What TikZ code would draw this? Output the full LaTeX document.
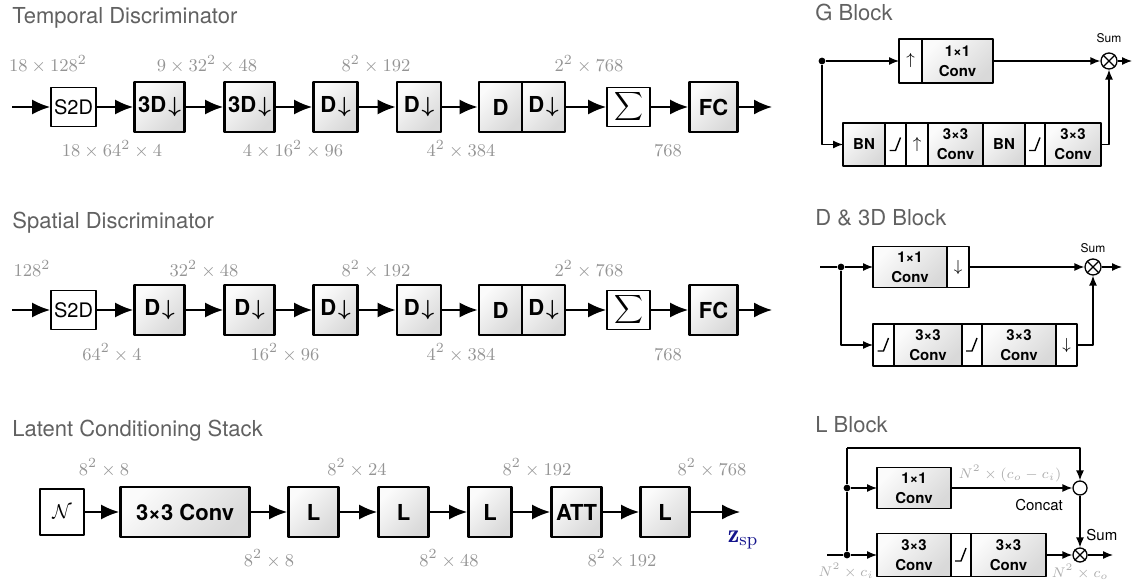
\documentclass[tikz,border=0pt]{standalone}
\usepackage{fontspec}
\usepackage{amsmath}
\usetikzlibrary{arrows.meta,positioning}
\newfontfamily\hv{TeX Gyre Heros}
\definecolor{lblgray}{gray}{0.58}
\definecolor{faintgray}{gray}{0.68}
\definecolor{ttlgray}{gray}{0.38}
\definecolor{zblue}{RGB}{20,20,140}
\def\dn{\kern1pt{\boldmath$\downarrow$}}
\tikzset{
  sz/.style 2 args={minimum width=#1*0.5pt, minimum height=#2*0.5pt},
  blk/.style={draw, line width=1.4pt, inner sep=0pt, top color=gray!3, bottom color=gray!30, shading angle=45, font=\hv\bfseries\fontsize{11}{11}\selectfont},
  wbox/.style={draw, line width=0.9pt, fill=white, inner sep=0pt, font=\hv\fontsize{10}{10}\selectfont},
  cell/.style={draw, line width=0.8pt, inner sep=0pt, outer sep=0pt, top color=gray!3, bottom color=gray!30, shading angle=45, align=center, font=\hv\bfseries\fontsize{7.5}{10}\selectfont},
  wcell/.style={draw, line width=0.8pt, inner sep=0pt, outer sep=0pt, fill=white, font=\fontsize{8.5}{8}\selectfont},
  dim/.style={text=lblgray, font=\fontsize{9.5}{10}\selectfont, anchor=base, inner sep=0pt},
  ttl/.style={text=ttlgray, font=\hv\fontsize{11}{12}\selectfont, anchor=base west, inner sep=0pt},
  note/.style={font=\hv\fontsize{#1}{#1}\selectfont, anchor=base, inner sep=0pt},
  flow/.style={line width=0.9pt, -{Latex[length=9pt,width=7.5pt]}},
  link/.style={line width=0.65pt, -{Latex[length=5pt,width=4pt]}},
  wire/.style={line width=0.65pt},
  dot/.style={circle, fill, inner sep=0pt, minimum size=3.4pt},
  sumnode/.style={circle, draw, line width=0.65pt, inner sep=0pt, minimum size=#1},
  sumnode/.default=8pt,
}
\newcommand{\relu}[1]{\draw[line width=0.7pt] ([shift={(-6,6)}]#1.center) -- ++(6,0) -- ++(5,-13);}
\newcommand{\cross}[1]{\draw[line width=0.65pt] (#1.north west) -- (#1.south east) (#1.north east) -- (#1.south west);}
\begin{document}
\begin{tikzpicture}[x=0.5pt, y=-0.5pt, line join=round]
\useasboundingbox (0,0) rectangle (1133,582);
% --- temporal discriminator
\node[ttl] (ttitle) at (12,24) {Temporal Discriminator};
\coordinate (tin) at (12,107);
\node[wbox, sz={45}{39}] (ts2d) at (73.5,107) {S2D};
\node[blk, sz={50}{50}] (t3da) at (159.5,107) {3D\dn};
\node[blk, sz={50}{50}] (t3db) at (249.5,107) {3D\dn};
\node[blk, sz={44}{50}] (tda) at (335.5,107) {D\dn};
\node[blk, sz={44}{50}] (tdb) at (419,107) {D\dn};
\node[blk, sz={43}{50}] (tdc) at (500.5,107) {D};
\node[blk, sz={43}{50}, right=-1.4pt of tdc] (tdd) {D\dn};
\node[wbox, sz={43}{39}] (tsum) at (628.5,107) {$\displaystyle\sum$};
\node[blk, sz={48}{50}] (tfc) at (713.5,107) {FC};
\coordinate (tout) at (772,107);
\draw[flow] (tin) -- (ts2d);
\draw[flow] (ts2d) -- (t3da);
\draw[flow] (t3da) -- (t3db);
\draw[flow] (t3db) -- (tda);
\draw[flow] (tda) -- (tdb);
\draw[flow] (tdb) -- (tdc);
\draw[flow] (tdd) -- (tsum);
\draw[flow] (tsum) -- (tfc);
\draw[flow] (tfc) -- (tout);
\node[dim] (tla) at (48,72) {$18\times128^2$};
\node[dim] (tlb) at (207,72) {$9\times32^2\times48$};
\node[dim] (tlc) at (376,72) {$8^2\times192$};
\node[dim] (tld) at (589,72) {$2^2\times768$};
\node[dim] (tle) at (112,157) {$18\times64^2\times4$};
\node[dim] (tlf) at (293,157) {$4\times16^2\times96$};
\node[dim] (tlg) at (461,157) {$4^2\times384$};
\node[dim] (tlh) at (668,157) {$768$};
% --- spatial discriminator
\node[ttl] (stitle) at (12,229) {Spatial Discriminator};
\coordinate (sin) at (12,310);
\node[wbox, sz={45}{39}] (ss2d) at (73.5,310) {S2D};
\node[blk, sz={50}{50}] (sda) at (159.5,310) {D\dn};
\node[blk, sz={50}{50}] (sdb) at (249.5,310) {D\dn};
\node[blk, sz={44}{50}] (sdc) at (335.5,310) {D\dn};
\node[blk, sz={44}{50}] (sdd) at (419,310) {D\dn};
\node[blk, sz={43}{50}] (sde) at (500.5,310) {D};
\node[blk, sz={43}{50}, right=-1.4pt of sde] (sdf) {D\dn};
\node[wbox, sz={43}{39}] (ssum) at (628.5,310) {$\displaystyle\sum$};
\node[blk, sz={48}{50}] (sfc) at (713.5,310) {FC};
\coordinate (sout) at (772,310);
\draw[flow] (sin) -- (ss2d);
\draw[flow] (ss2d) -- (sda);
\draw[flow] (sda) -- (sdb);
\draw[flow] (sdb) -- (sdc);
\draw[flow] (sdc) -- (sdd);
\draw[flow] (sdd) -- (sde);
\draw[flow] (sdf) -- (ssum);
\draw[flow] (ssum) -- (sfc);
\draw[flow] (sfc) -- (sout);
\node[dim] (sla) at (32,277) {$128^2$};
\node[dim] (slb) at (204,277) {$32^2\times48$};
\node[dim] (slc) at (376,277) {$8^2\times192$};
\node[dim] (sld) at (589,277) {$2^2\times768$};
\node[dim] (sle) at (112,360) {$64^2\times4$};
\node[dim] (slf) at (285,360) {$16^2\times96$};
\node[dim] (slg) at (461,360) {$4^2\times384$};
\node[dim] (slh) at (668,360) {$768$};
% --- latent conditioning stack
\node[ttl] (ctitle) at (12,436) {Latent Conditioning Stack};
\node[wbox, sz={44}{46}] (cnoise) at (62,512) {$\mathcal{N}$};
\node[blk, sz={129}{50}] (cconv) at (185,512) {3×3 Conv};
\node[blk, sz={50}{50}] (cla) at (313.5,512) {L};
\node[blk, sz={50}{50}] (clb) at (403.5,512) {L};
\node[blk, sz={43}{50}] (clc) at (490,512) {L};
\node[blk, sz={50}{50}] (catt) at (576.5,512) {ATT};
\node[blk, sz={49}{50}] (cld) at (665,512) {L};
\coordinate (cout) at (740,512);
\draw[flow] (cnoise) -- (cconv);
\draw[flow] (cconv) -- (cla);
\draw[flow] (cla) -- (clb);
\draw[flow] (clb) -- (clc);
\draw[flow] (clc) -- (catt);
\draw[flow] (catt) -- (cld);
\draw[flow] (cld) -- (cout);
\node[text=zblue, font=\fontsize{13}{14}\selectfont] (czsp) at (743,540) {$\mathbf{z}_{\mathrm{sp}}$};
\node[dim] (cla1) at (104,475) {$8^2\times8$};
\node[dim] (clb1) at (357,475) {$8^2\times24$};
\node[dim] (clc1) at (537,475) {$8^2\times192$};
\node[dim] (cld1) at (712,475) {$8^2\times768$};
\node[dim] (cle1) at (269,566) {$8^2\times8$};
\node[dim] (clf1) at (449,566) {$8^2\times48$};
\node[dim] (clg1) at (622,566) {$8^2\times192$};
% --- G block
\node[ttl] (gtitle) at (815,21) {G Block};
\node[dot] (gsplit) at (822,61) {};
\node[wcell, sz={23}{44}] (gup) at (910.5,61) {$\uparrow$};
\node[cell, sz={71}{44}, right=0pt of gup] (gconv) {1×1\\Conv};
\node[sumnode] (gsum) at (1109,61) {};
\cross{gsum}
\node[note=6] (gsumlbl) at (1109,43) {Sum};
\coordinate (gout) at (1132,61);
\node[cell, sz={42}{43}] (gbna) at (864,144.5) {BN};
\node[wcell, sz={21}{43}, right=0pt of gbna] (grelua) {};
\node[wcell, sz={22}{43}, right=0pt of grelua] (gupb) {$\uparrow$};
\node[cell, sz={55}{43}, right=0pt of gupb] (gconva) {3×3\\Conv};
\node[cell, sz={42}{43}, right=0pt of gconva] (gbnb) {BN};
\node[wcell, sz={20}{43}, right=0pt of gbnb] (grelub) {};
\node[cell, sz={56}{43}, right=0pt of grelub] (gconvb) {3×3\\Conv};
\relu{grelua} \relu{grelub}
\draw[link] (gsplit) -- (gup);
\draw[link] (gconv) -- (gsum);
\draw[link] (gsum) -- (gout);
\draw[link] (gsplit) |- (gbna);
\draw[link] (gconvb) -| (gsum);
% --- D & 3D block
\node[ttl] (dtitle) at (815,226) {D \& 3D Block};
\coordinate (din) at (820,267);
\node[dot] (dsplit) at (841,267) {};
\node[cell, sz={74}{41}] (dconv) at (910,267) {1×1\\Conv};
\node[wcell, sz={22}{41}, right=0pt of dconv] (ddn) {$\downarrow$};
\node[sumnode] (dsum) at (1093,267) {};
\cross{dsum}
\node[note=6] (dsumlbl) at (1093,253) {Sum};
\coordinate (dout) at (1122,267);
\node[wcell, sz={21}{42}] (drelua) at (883.5,345) {};
\node[cell, sz={68}{42}, right=0pt of drelua] (dconva) {3×3\\Conv};
\node[wcell, sz={20}{42}, right=0pt of dconva] (drelub) {};
\node[cell, sz={74}{42}, right=0pt of drelub] (dconvb) {3×3\\Conv};
\node[wcell, sz={21}{42}, right=0pt of dconvb] (ddnb) {$\downarrow$};
\relu{drelua} \relu{drelub}
\draw[wire] (din) -- (dsplit);
\draw[link] (dsplit) -- (dconv);
\draw[link] (ddn) -- (dsum);
\draw[link] (dsum) -- (dout);
\draw[link] (dsplit) |- (drelua);
\draw[link] (ddnb) -| (dsum);
% --- L block
\node[ttl] (ltitle) at (815,432) {L Block};
\coordinate (lin) at (827,555);
\coordinate (ltop) at (847,448);
\node[dot] (lsplita) at (847,555) {};
\node[dot] (lsplitb) at (847,488) {};
\node[cell, sz={74}{41}] (lconv) at (914,488) {1×1\\Conv};
\node[sumnode=7pt] (lcat) at (1080,488) {};
\node[sumnode=7pt] (lsum) at (1080,555) {};
\cross{lsum}
\node[cell, sz={74}{43}] (lconva) at (914,555) {3×3\\Conv};
\node[wcell, sz={20}{43}, right=0pt of lconva] (lrelu) {};
\node[cell, sz={75}{43}, right=0pt of lrelu] (lconvb) {3×3\\Conv};
\relu{lrelu}
\coordinate (lout) at (1113,555);
\draw[wire] (lin) -- (lsplita);
\draw[wire] (lsplita) -- (lsplitb) -- (ltop);
\draw[link] (ltop) -| (lcat);
\draw[link] (lsplitb) -- (lconv);
\draw[link] (lconv) -- (lcat);
\draw[link] (lcat) -- (lsum);
\draw[link] (lsplita) -- (lconva);
\draw[link] (lconvb) -- (lsum);
\draw[link] (lsum) -- (lout);
\node[note=7.5] (lcatlbl) at (1039,510) {Concat};
\node[note=7.5, anchor=base west] (lsumlbl) at (1086,540) {Sum};
\node[dim, text=faintgray, font=\fontsize{7}{8}\selectfont] (lmid) at (1010,478) {$N^2\times(c_o-c_i)$};
\node[dim, text=faintgray, font=\fontsize{7}{8}\selectfont] (lcin) at (846,576) {$N^2\times c_i$};
\node[dim, text=faintgray, font=\fontsize{7}{8}\selectfont] (lcout) at (1080,577) {$N^2\times c_o$};
\end{tikzpicture}
\end{document}
